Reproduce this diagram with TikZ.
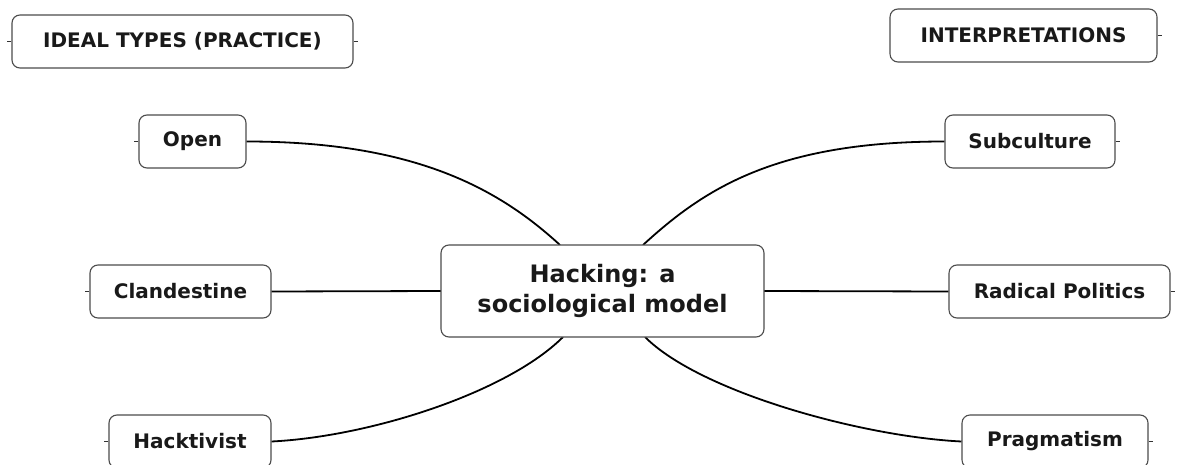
\documentclass[tikz,border=0pt]{standalone}
\usepackage{fontspec}
\setmainfont{DejaVu Sans}
\begin{document}
\begin{tikzpicture}[x=1pt,y=-1pt,
  box/.style={draw=black!70,line width=1.1pt,rounded corners=8pt,fill=white,
    inner sep=0pt,align=center,font=\fontsize{20}{24}\selectfont\bfseries,text=black!90},
  big/.style={box,font=\fontsize{24}{30}\selectfont\bfseries},
  link/.style={line width=1.8pt,black},
  tick/.style={line width=1pt,black!80}]
\clip (0,0) rectangle (1177,465);
\useasboundingbox (0,0) rectangle (1177,465);
\fill[white] (0,0) rectangle (1177,465);
\coordinate (ctl) at (560,245);
\coordinate (ctr) at (643,245);
\coordinate (cbl) at (563,337);
\coordinate (cbr) at (645,337);
\node[box,minimum width=107pt,minimum height=53pt] (open) at (192.5,141.5) {Open};
\node[box,minimum width=170pt,minimum height=53pt] (sub) at (1030,141.5) {Subculture};
\node[box,minimum width=181pt,minimum height=53pt] (cland) at (180.5,291.5) {Clandestine};
\node[box,minimum width=221pt,minimum height=53pt] (rad) at (1059.5,291.5) {Radical Politics};
\node[box,minimum width=162pt,minimum height=53pt] (hack) at (190,441.5) {Hacktivist};
\node[box,minimum width=186pt,minimum height=53pt] (prag) at (1055,441.5) {Pragmatism};
\draw[link] (open.east) .. controls +(170,0) and +(-60,-55) .. (ctl);
\draw[link] (sub.west) .. controls +(-170,0) and +(60,-55) .. (ctr);
\draw[link] (hack.east) .. controls +(100,-5) and +(-55,55) .. (cbl);
\draw[link] (prag.west) .. controls +(-100,-5) and +(55,55) .. (cbr);
\draw[link] (cland.east) -- (441,291);
\draw[link] (rad.west) -- (764,291);
\node[big,minimum width=323pt,minimum height=92pt] (c) at (602.5,291) {Hacking: a\\sociological model};
\node[box,minimum width=341pt,minimum height=53pt] (ideal) at (182.5,41.5) {IDEAL TYPES (PRACTICE)};
\node[box,minimum width=267pt,minimum height=53pt] (interp) at (1023.5,35.5) {INTERPRETATIONS};
\draw[tick] (ideal.west) -- ++(-4,0);
\draw[tick] (ideal.east) -- ++(4,0);
\draw[tick] (interp.east) -- ++(4,0);
\draw[tick] (open.west) -- ++(-4,0);
\draw[tick] (sub.east) -- ++(4,0);
\draw[tick] (cland.west) -- ++(-4,0);
\draw[tick] (rad.east) -- ++(4,0);
\draw[tick] (hack.west) -- ++(-4,0);
\draw[tick] (prag.east) -- ++(4,0);
\end{tikzpicture}
\end{document}
